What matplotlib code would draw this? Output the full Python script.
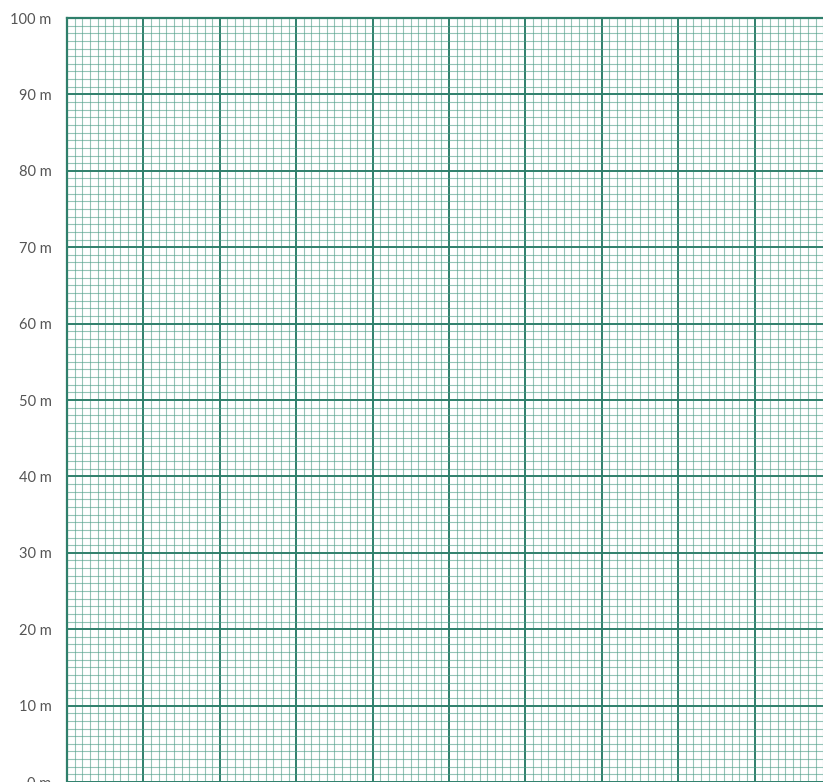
import matplotlib
matplotlib.use("Agg")
import matplotlib.pyplot as plt
import numpy as np

x_major = list(range(0, 101, 10))
y_major = list(range(0, 101, 10))
y_labels = [f"{v} m" for v in y_major]
minor_step = 1

W, H = 823, 782
fig = plt.figure(figsize=(W / 100, H / 100), dpi=100)
left, top, size = 67, 18, 764
ax = fig.add_axes([left / W, (H - top - size) / H, size / W, size / H])
ax.set_xlim(0, 100)
ax.set_ylim(0, 100)

major_c = "#2f7f6b"
minor_c = "#4e9e88"

ax.set_xticks(x_major)
ax.set_yticks(y_major)
ax.set_yticklabels(y_labels)
ax.set_xticks(np.arange(0, 101, minor_step), minor=True)
ax.set_yticks(np.arange(0, 101, minor_step), minor=True)
ax.grid(which="minor", color=minor_c, linewidth=0.8, alpha=0.6)
ax.grid(which="major", color=major_c, linewidth=1.4)
ax.set_axisbelow(True)
ax.tick_params(which="both", length=0)
ax.tick_params(axis="x", labelbottom=False)
ax.tick_params(axis="y", pad=11, labelsize=10.5, labelcolor="#555555")
for lab in ax.get_yticklabels():
    lab.set_family("Lato")
for s in ax.spines.values():
    s.set_visible(False)
ax.axvline(0, color=major_c, linewidth=1.6, clip_on=False)
ax.axhline(100, color=major_c, linewidth=1.6, clip_on=False)

fig.savefig("out.png", dpi=100)
